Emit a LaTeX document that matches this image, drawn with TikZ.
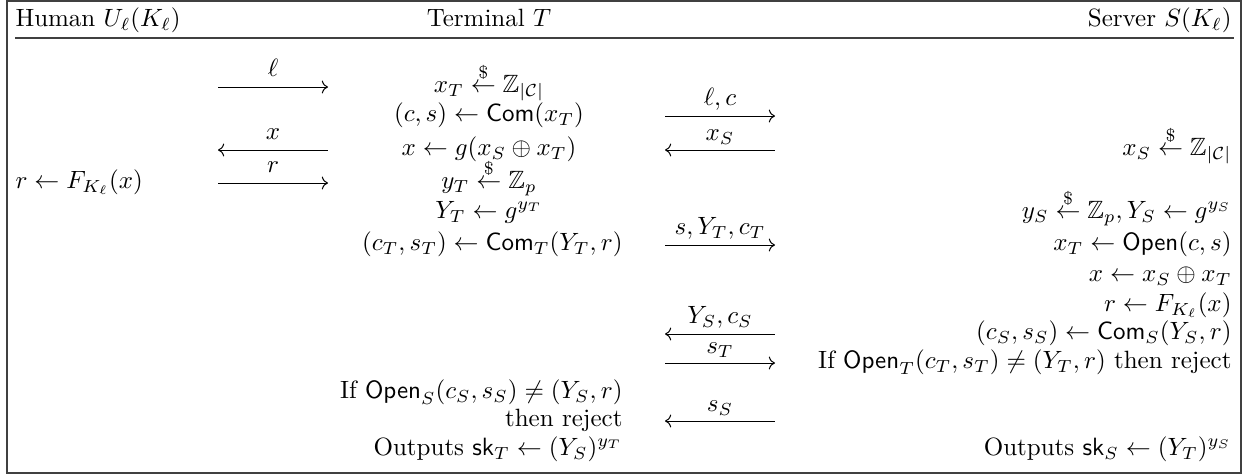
\documentclass[tikz,border=0pt]{standalone}
\usepackage{amsmath,amssymb}
\usetikzlibrary{arrows.meta}
\tikzset{
  lcol/.style={anchor=mid west,inner sep=0pt},
  ccol/.style={anchor=mid,inner sep=0pt},
  rcol/.style={anchor=mid east,inner sep=0pt},
  sendr/.style={-{To}},
  sendl/.style={{To}-},
  lab/.style={midway,above,inner sep=2pt},
  keret/.style={draw=black!75,line width=0.6pt},
}
\newcommand{\rnd}{\stackrel{\$}{\leftarrow}}

\begin{document}
\begin{tikzpicture}[x=0.4pt,y=-0.4pt]
  \useasboundingbox (0,0) rectangle (1248,474);
  \draw[keret] (7,1) rectangle (1241,473);
  \draw[keret] (15,38) -- (1234,38);
  % header
  \node[lcol] (hu) at (15,21) {Human $U_\ell(K_\ell)$};
  \node[ccol] (te) at (489,21) {Terminal $T$};
  \node[rcol] (se) at (1232,21) {Server $S(K_\ell)$};
  % human
  \node[lcol] (h1) at (15,183) {$r \leftarrow F_{K_\ell}(x)$};
  % terminal
  \node[ccol] (t1) at (489,87) {$x_T \rnd \mathbb{Z}_{|\mathcal{C}|}$};
  \node[ccol] (t2) at (489,116) {$(c,s) \leftarrow \mathsf{Com}(x_T)$};
  \node[ccol] (t3) at (489,150) {$x \leftarrow g(x_S \oplus x_T)$};
  \node[ccol] (t4) at (489,183) {$y_T \rnd \mathbb{Z}_p$};
  \node[ccol] (t5) at (489,213) {$Y_T \leftarrow g^{y_T}$};
  \node[rcol] (t6) at (623,245) {$(c_T,s_T) \leftarrow \mathsf{Com}_T(Y_T,r)$};
  \node[rcol] (t7) at (623,393) {If $\mathsf{Open}_S(c_S,s_S) \neq (Y_S,r)$};
  \node[rcol] (t8) at (623,421) {then reject};
  \node[rcol] (t9) at (623,450) {Outputs $\mathsf{sk}_T \leftarrow (Y_S)^{y_T}$};
  % server
  \node[rcol] (s1) at (1232,150) {$x_S \rnd \mathbb{Z}_{|\mathcal{C}|}$};
  \node[rcol] (s2) at (1232,213) {$y_S \rnd \mathbb{Z}_p, Y_S \leftarrow g^{y_S}$};
  \node[rcol] (s3) at (1232,245) {$x_T \leftarrow \mathsf{Open}(c,s)$};
  \node[rcol] (s4) at (1232,276) {$x \leftarrow x_S \oplus x_T$};
  \node[rcol] (s5) at (1232,306) {$r \leftarrow F_{K_\ell}(x)$};
  \node[rcol] (s6) at (1232,334) {$(c_S,s_S) \leftarrow \mathsf{Com}_S(Y_S,r)$};
  \node[rcol] (s7) at (1232,363) {If $\mathsf{Open}_T(c_T,s_T) \neq (Y_T,r)$ then reject};
  \node[rcol] (s8) at (1232,450) {Outputs $\mathsf{sk}_S \leftarrow (Y_T)^{y_S}$};
  % messages
  \foreach \n/\xa/\y/\d/\h/\m in {m1/218/87/sendr/2/{\ell}, m2/218/150/sendl/2/{x},
      m3/218/183/sendr/2/{r}, m4/665/116/sendr/0/{\ell, c}, m5/665/150/sendl/0/{x_S},
      m6/665/245/sendr/0/{s, Y_T, c_T}, m7/665/334/sendl/0/{Y_S, c_S},
      m8/665/363/sendr/0/{s_T}, m9/665/421/sendl/0/{s_S}} {
    \coordinate (\n a) at (\xa,\y);
    \coordinate (\n b) at (\xa+110,\y);
    \draw[\d] (\n a) -- (\n b) node[lab,yshift=\h pt] {$\m$};
  }
\end{tikzpicture}
\end{document}
